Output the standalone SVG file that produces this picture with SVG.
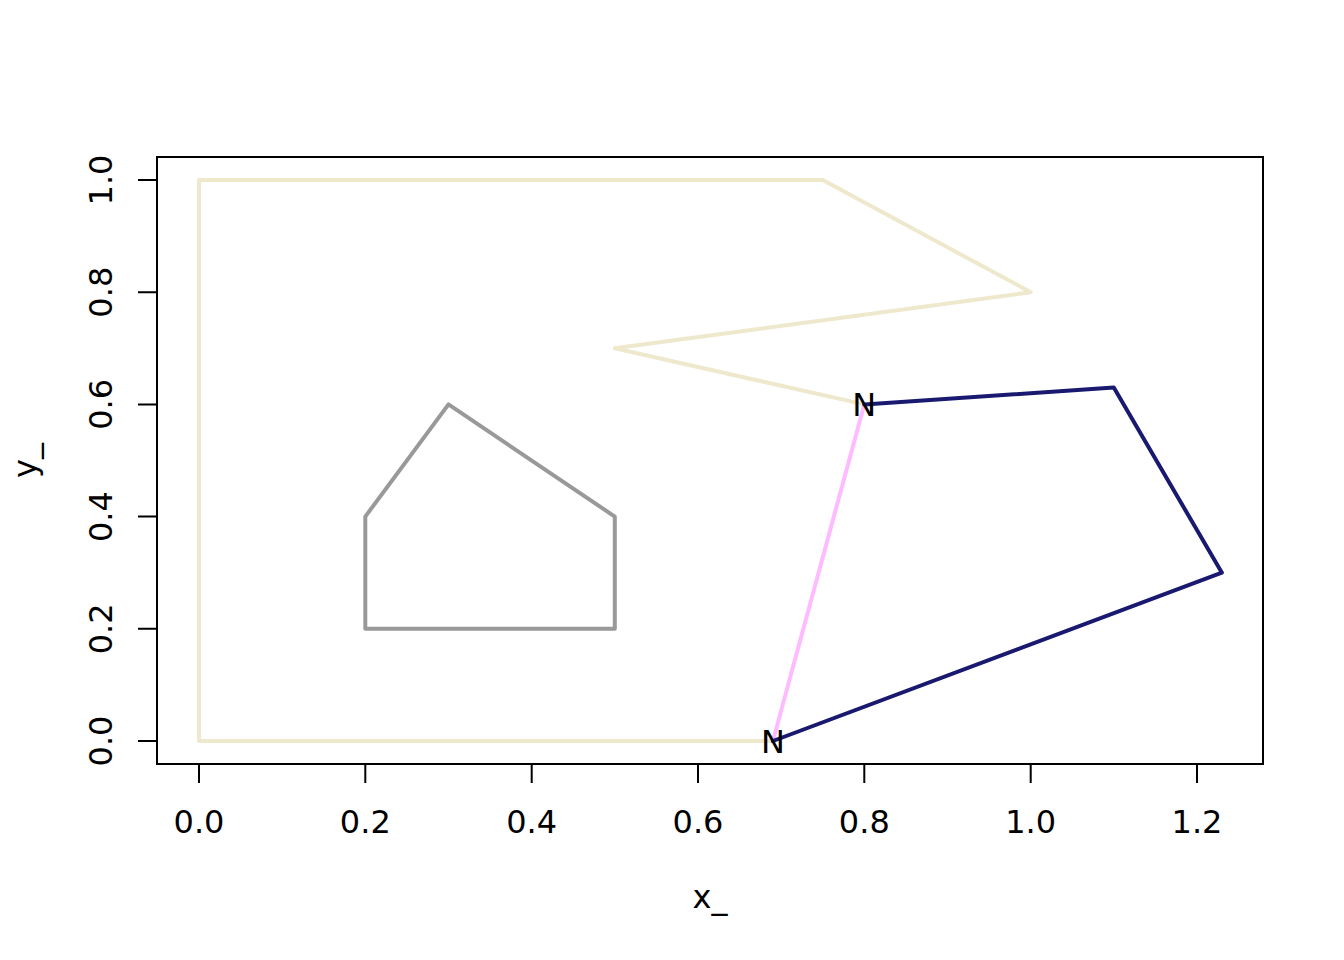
<svg xmlns="http://www.w3.org/2000/svg" width="1344" height="960" viewBox="0 0 1344 960">
<style>
text{font-family:"DejaVu Sans",sans-serif;font-size:32px;fill:#000}
.ax{stroke:#000;stroke-width:2;fill:none}
.poly{fill:none;stroke-width:4;stroke-linejoin:round;stroke-linecap:round}
</style>
<rect width="1344" height="960" fill="#fff"/>
<g id="plot-box"><rect class="ax" x="157" y="157" width="1106" height="607"/></g>
<g id="x-axis">
<path class="ax" d="M199,764V783M365.3,764V783M531.7,764V783M698,764V783M864.3,764V783M1030.7,764V783M1197,764V783M199,764H1197"/>
<g text-anchor="middle">
<text x="199" y="833">0.0</text>
<text x="365.3" y="833">0.2</text>
<text x="531.7" y="833">0.4</text>
<text x="698" y="833">0.6</text>
<text x="864.3" y="833">0.8</text>
<text x="1030.7" y="833">1.0</text>
<text x="1197" y="833">1.2</text>
<text x="710" y="908">x_</text>
</g>
</g>
<g id="y-axis">
<path class="ax" d="M157,741H138M157,628.8H138M157,516.6H138M157,404.4H138M157,292.2H138M157,180H138M157,741V180"/>
<g text-anchor="middle">
<text transform="translate(112,741) rotate(-90)">0.0</text>
<text transform="translate(112,628.8) rotate(-90)">0.2</text>
<text transform="translate(112,516.6) rotate(-90)">0.4</text>
<text transform="translate(112,404.4) rotate(-90)">0.6</text>
<text transform="translate(112,292.2) rotate(-90)">0.8</text>
<text transform="translate(112,180) rotate(-90)">1.0</text>
<text transform="translate(36,460.5) rotate(-90)">y_</text>
</g>
</g>
<g id="connectors">
<polyline id="beige-poly" class="poly" stroke="#EEE8CD" points="864.3,404.4 614.8,348.3 1030.7,292.2 822.8,180 199,180 199,741 772.9,741"/>
<polygon id="gray-poly" class="poly" stroke="#999999" points="365.3,628.8 365.3,516.6 448.5,404.4 614.8,516.6 614.8,628.8"/>
<polyline id="pink-line" class="poly" stroke="#FFBBFF" points="772.9,741 864.3,404.4"/>
<polyline id="navy-poly" class="poly" stroke="#191970" points="864.3,404.4 1113.8,387.6 1221.9,572.7 772.9,741"/>
</g>
<g id="labels" text-anchor="middle">
<text x="864.3" y="416">N</text>
<text x="772.9" y="752.6">N</text>
</g>
</svg>
